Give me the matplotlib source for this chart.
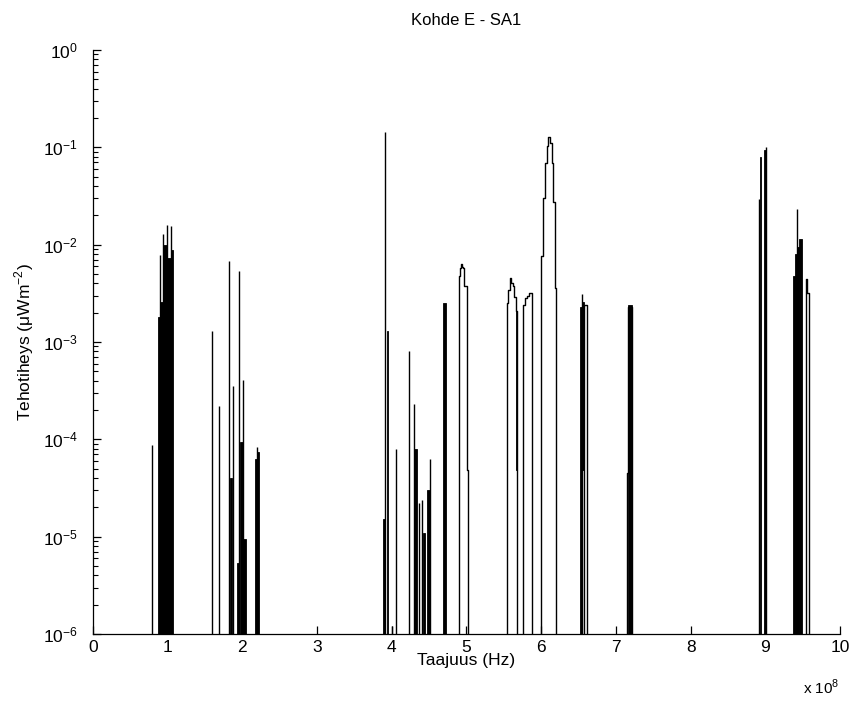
import matplotlib as mpl
mpl.use('Agg')
import matplotlib.pyplot as plt
from matplotlib.ticker import LogLocator, FixedLocator

plt.rcParams['font.family'] = ['Liberation Sans', 'DejaVu Sans']
plt.rcParams['mathtext.fontset'] = 'custom'
plt.rcParams['mathtext.rm'] = 'Liberation Sans'

FLOOR = 1e-9  # spectrum below the plotted range

# frequencies in units of 1e8 Hz, power density in uW/m^2
spike_freq = [0.793, 0.895, 0.94, 0.99, 1.044, 1.597, 1.687, 1.821, 1.87, 1.954,
              2.008, 2.19, 3.909, 4.003, 4.052, 4.235, 4.302, 4.369, 4.409,
              4.511, 6.545, 8.911, 9.015, 9.43]
spike_level = [8.7e-5, 7.8e-3, 1.28e-2, 1.6e-2, 1.55e-2, 1.3e-3, 2.2e-4, 6.8e-3,
               3.5e-4, 5.4e-3, 4.1e-4, 8.4e-5, 0.145, 1.2e-6, 8e-5, 8.1e-4,
               2.3e-4, 2.2e-5, 2.4e-5, 6.3e-5, 3.1e-3, 2.96e-2, 0.1, 2.35e-2]

band_start = [0.874, 0.895, 0.94, 0.99, 1.044, 1.83, 1.932, 1.968, 2.008, 2.164,
              2.19, 3.878, 3.931, 4.302, 4.422, 4.476, 4.69, 5.658, 6.519,
              6.545, 7.167, 8.93, 8.985, 9.376, 9.399, 9.43, 9.452]
band_stop = [0.895, 0.94, 0.99, 1.044, 1.075, 1.86, 1.954, 2.008, 2.044, 2.19,
             2.226, 3.909, 3.944, 4.333, 4.444, 4.511, 4.726, 5.68, 6.545,
             6.575, 7.22, 8.945, 9.015, 9.399, 9.43, 9.452, 9.489]
band_high = [1.8e-3, 2.6e-3, 1.0e-2, 7.3e-3, 8.8e-3, 4e-5, 5.4e-6, 9.4e-5, 9.4e-6,
             6.3e-5, 7.4e-5, 1.5e-5, 1.3e-3, 8e-5, 1.1e-5, 3e-5, 2.5e-3, 2.1e-3,
             2.3e-3, 2.6e-3, 2.4e-3, 7.9e-2, 9.4e-2, 4.8e-3, 8.1e-3,
             9.5e-3, 1.14e-2]
band_low = [1e-6] * 17 + [4.8e-5, 1e-6, 4.8e-5] + [1e-6] * 7

peak5_freq = [4.895, 4.913, 4.922, 4.94, 4.958, 4.971, 5.003, 5.016]
peak5_level = [4.8e-3, 5.7e-3, 6.3e-3, 5.9e-3, 5.7e-3, 3.8e-3, 4.8e-5, 0]
peak56_freq = [5.538, 5.56, 5.582, 5.60, 5.618, 5.64, 5.658, 5.68]
peak56_level = [2.5e-3, 3.4e-3, 4.5e-3, 4.0e-3, 3.8e-3, 2.9e-3, 2.1e-3, 0]
peak58_freq = [5.761, 5.783, 5.806, 5.837, 5.873]
peak58_level = [2.4e-3, 2.8e-3, 3.0e-3, 3.2e-3, 0]
peak61_freq = [5.997, 6.02, 6.051, 6.073, 6.095, 6.118, 6.14, 6.154, 6.185, 6.198]
peak61_level = [7.6e-3, 3.05e-2, 6.9e-2, 0.104, 0.128, 0.11, 6.9e-2, 2.75e-2, 3.6e-3, 0]
peak66_freq = [6.575, 6.609]
peak66_level = [2.4e-3, 0]
peak72_freq = [7.144, 7.167, 7.22]
peak72_level = [4.5e-5, 2.3e-3, 0]
peak95_freq = [9.544, 9.56, 9.589]
peak95_level = [4.4e-3, 3.2e-3, 0]

fig = plt.figure(figsize=(8.5, 7.03), dpi=100)
ax = fig.add_axes([0.1094, 0.0982, 0.8788, 0.8307])
ax.set_yscale('log')

ax.vlines(spike_freq, FLOOR, spike_level, color='k', lw=1.0)
widths = [b - a for a, b in zip(band_start, band_stop)]
heights = [h - l for h, l in zip(band_high, band_low)]
ax.bar(band_start, heights, width=widths, bottom=band_low, align='edge',
       color='k', edgecolor='k', linewidth=0.6)

for f, p in [(peak5_freq, peak5_level), (peak56_freq, peak56_level),
             (peak58_freq, peak58_level), (peak61_freq, peak61_level),
             (peak66_freq, peak66_level), (peak72_freq, peak72_level),
             (peak95_freq, peak95_level)]:
    xs = [f[0]] + f
    ys = [FLOOR] + [v if v > 0 else FLOOR for v in p]
    ax.plot(xs, ys, color='k', lw=1.0, drawstyle='steps-post')

ax.set_xlim(0, 10)
ax.set_ylim(1e-6, 1)
ax.xaxis.set_major_locator(FixedLocator(range(11)))
ax.yaxis.set_major_locator(LogLocator(base=10, numticks=10))
ax.yaxis.set_minor_locator(LogLocator(base=10, subs=range(2, 10), numticks=10))

for s in ['top', 'right']:
    ax.spines[s].set_visible(False)
for s in ['left', 'bottom']:
    ax.spines[s].set_linewidth(0.9)
ax.tick_params(which='major', direction='in', length=6, width=0.9, labelsize=12.5)
ax.tick_params(axis='x', pad=4)
ax.tick_params(axis='y', pad=11)
ax.tick_params(which='minor', direction='in', length=3.5, width=0.8)

ax.set_title('Kohde E - SA1', fontsize=12, pad=18)
ax.set_xlabel('Taajuus (Hz)', fontsize=12.5, labelpad=-1)
ax.set_ylabel('Tehotiheys (\u03bcWm$^{-2}$)', fontsize=12.5, labelpad=5)
ax.text(1.0, -0.075, 'x 10$^8$', transform=ax.transAxes, ha='right', va='top',
        fontsize=11)

fig.savefig('out.png', dpi=100)
